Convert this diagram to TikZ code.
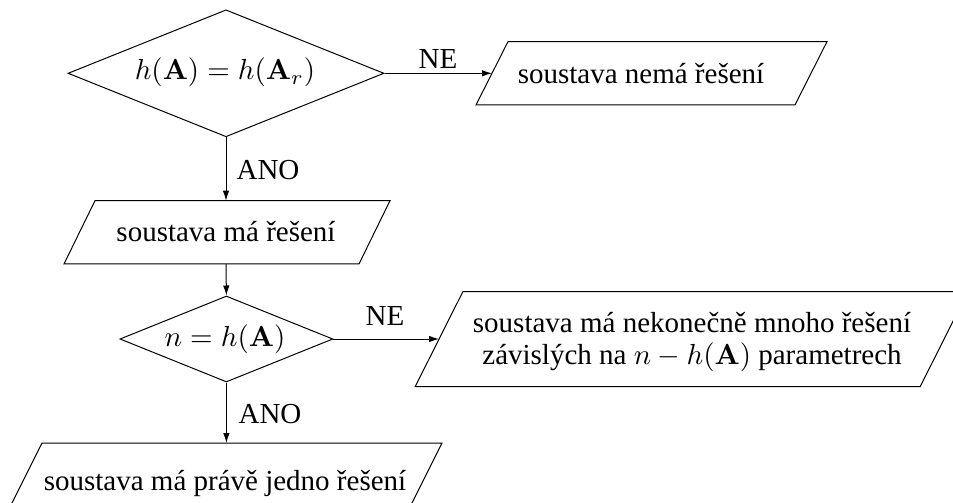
\documentclass[tikz,border=0pt]{standalone}
\usepackage[no-math]{fontspec}
\setmainfont{Liberation Serif}
\usetikzlibrary{shapes.geometric,arrows.meta,calc}
\begin{document}
\begin{tikzpicture}[x=1pt,y=-1pt,
  dia/.style={draw, diamond, inner sep=0pt, line width=1pt},
  body/.style={rectangle, inner sep=0pt, outer sep=0pt},
  edge/.style={line width=1pt, line join=miter},
  arr/.style={line width=1pt, -{Latex[length=10pt,width=6.5pt]}},
  lbl/.style={anchor=base, inner sep=0pt, scale=2.9}]
\useasboundingbox (0,0) rectangle (953,503);
\clip (0,0) rectangle (953,503);
% shapes
\node[dia, minimum width=316pt, minimum height=127pt] (d1) at (226,73.3) {};
\node[dia, minimum width=213pt, minimum height=86pt] (d2) at (226.4,339) {};
\node[body, minimum width=319pt, minimum height=63.3pt] (p1) at (651.5,73.3) {};
\node[body, minimum width=295pt, minimum height=63.3pt] (p2) at (227,232.3) {};
\node[body, minimum width=505pt, minimum height=95pt] (p3) at (691.5,339.2) {};
\node[body, minimum width=400pt, minimum height=70pt] (p4) at (224.5,478) {};
\foreach \p/\s in {p1/16,p2/15.5,p3/23.85,p4/17.5}{
  \draw[edge] ($(\p.south west)+(-\s,0)$) -- ($(\p.north west)+(\s,0)$)
    -- ($(\p.north east)+(\s,0)$) -- ($(\p.south east)+(-\s,0)$) -- cycle;
}
% texts
\node[lbl] (t1) at (225,80) {$h(\mathbf{A})=h(\mathbf{A}_r)$};
\node[lbl] (t2) at (641,83.3) {soustava nemá řešení};
\node[lbl] (t3) at (226,241.7) {soustava má řešení};
\node[lbl] (t4) at (225,346) {$n=h(\mathbf{A})$};
\node[lbl, align=center, font={\fontsize{10}{11.03}\selectfont}] (t5) at (692,364.5)
  {soustava má nekonečně mnoho řešení\\ závislých na $n-h(\mathbf{A})$ parametrech};
\node[lbl] (t6) at (225,490) {soustava má právě jedno řešení};
% labels
\node[lbl] (ne1) at (438,68.3) {NE};
\node[lbl] (ano1) at (268,179) {ANO};
\node[lbl] (ne2) at (385,325.7) {NE};
\node[lbl] (ano2) at (270,423) {ANO};
% connectors
\draw[arr] (d1.east) -- (d1.east -| p1.west);
\draw[arr] (d1.south) -- (d1.south |- p2.north);
\draw[arr] (d1.south |- p2.south) -- (d2.north);
\draw[arr] (d2.east) -- (d2.east -| p3.west);
\draw[arr] (d2.south) -- (d2.south |- p4.north);
\end{tikzpicture}
\end{document}
